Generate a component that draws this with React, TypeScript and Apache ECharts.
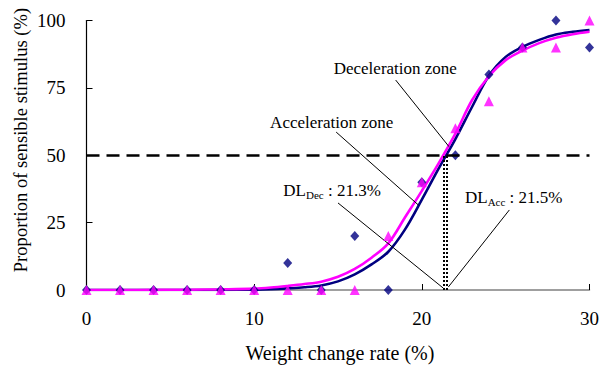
import React, { useEffect, useRef } from 'react';
import * as echarts from 'echarts';

// Observed proportions (%) at each weight change rate (%)
const stimX = [0, 2, 4, 6, 8, 10, 12, 14, 16, 18, 20, 22, 24, 26, 28, 30];
const accObserved = [0, 0, 0, 0, 0, 0, 10, 0, 20, 0, 40, 50, 80, 90, 100, 90];
const decObserved = [0, 0, 0, 0, 0, 0, 0, 0, 0, 20, 40, 60, 70, 90, 90, 100];

// Fitted curves
const fitX = [0, 2, 4, 6, 8, 10, 11, 12, 13, 14, 15, 16, 17, 18, 19, 20, 21, 22, 23, 24, 25, 26, 27, 28, 29, 30];
const accFit = [0, 0, 0, 0, 0.05, 0.15, 0.3, 0.6, 1.0, 1.7, 3.2, 5.8, 9.5, 14.2, 22.5, 33.5, 45, 56, 68, 79.5, 86.5, 90.2, 92.8, 94.8, 95.8, 96.5];
const decFit = [0, 0, 0.05, 0.1, 0.25, 0.5, 0.9, 1.5, 2.2, 3.1, 4.9, 7.8, 12, 17.3, 27, 36.8, 47, 58, 70.5, 79.3, 85.3, 88.8, 91.6, 93.6, 94.9, 95.8];

const xTicks = [0, 10, 20, 30];
const yTicks = [0, 25, 50, 75, 100];
const threshold = 50;
const dlDec = 21.3;
const dlAcc = 21.5;

const FONT = 'Liberation Serif';
const NAVY = '#000080';
const MAGENTA = '#FF00FF';

export default function App() {
  const ref = useRef<HTMLDivElement>(null);
  useEffect(() => {
    if (!ref.current) return;
    const chart = echarts.init(ref.current, null, { renderer: 'svg' });
    const pair = (xs: number[], ys: number[]) => xs.map((x, i) => [x, ys[i]]);
    const leader = (a: number[], b: number[]) => [{ coord: a }, { coord: b }];
    const txt = (x: number, y: number, text: string, size: number, extra: any = {}) => ({
      type: 'text',
      x,
      y,
      ...extra,
      style: {
        text,
        fontSize: size,
        fontFamily: FONT,
        fill: '#000',
        align: 'center',
        verticalAlign: 'middle',
      },
    });
    const dlText = (x: number, y: number, sub: string, v: number) => ({
      type: 'text',
      x,
      y,
      style: {
        text: '{a|DL}{b|' + sub + '}{a| : ' + v.toFixed(1) + '%}',
        align: 'left',
        verticalAlign: 'middle',
        rich: {
          a: { fontSize: 17, fontFamily: FONT, fill: '#000', lineHeight: 20 },
          b: { fontSize: 11, fontFamily: FONT, fill: '#000', lineHeight: 10, verticalAlign: 'bottom' },
        },
      },
    });

    const option: any = {
      animation: false,
      backgroundColor: '#fff',
      textStyle: { fontFamily: FONT },
      grid: { left: 86.5, right: 8.7, top: 20.5, bottom: 76 },
      xAxis: {
        type: 'value',
        min: xTicks[0],
        max: xTicks[xTicks.length - 1],
        interval: 10,
        axisLine: { show: true, lineStyle: { color: '#808080', width: 1.5 } },
        axisTick: { show: true, inside: true, length: 6, lineStyle: { color: '#000', width: 1 } },
        axisLabel: { margin: 19, fontSize: 19, fontFamily: FONT, color: '#000' },
        splitLine: { show: false },
      },
      yAxis: {
        type: 'value',
        min: yTicks[0],
        max: yTicks[yTicks.length - 1],
        interval: 25,
        axisLine: { show: true, lineStyle: { color: '#000', width: 1.2 } },
        axisTick: { show: true, inside: true, length: 6, lineStyle: { color: '#000', width: 1 } },
        axisLabel: { margin: 21, fontSize: 19, fontFamily: FONT, color: '#000' },
        splitLine: { show: false },
      },
      series: [
        {
          type: 'line',
          name: 'Acceleration fit',
          data: pair(fitX, accFit),
          smooth: 0.35,
          showSymbol: false,
          symbol: 'none',
          lineStyle: { color: NAVY, width: 2.6 },
          z: 2,
          markLine: {
            silent: true,
            symbol: 'none',
            label: { show: false },
            lineStyle: { color: '#000', width: 1, type: 'solid' },
            data: [
              leader([18.44, 77.9], [21.62, 53.2]),
              leader([14.89, 58.6], [19.8, 31.5]),
              leader([15.0, 32.3], [21.28, 0.7]),
              leader([25.22, 29.7], [21.58, 1.1]),
            ],
          },
        },
        {
          type: 'line',
          name: 'Deceleration fit',
          data: pair(fitX, decFit),
          smooth: 0.35,
          showSymbol: false,
          symbol: 'none',
          lineStyle: { color: MAGENTA, width: 2.6 },
          z: 3,
          markLine: {
            silent: true,
            symbol: 'none',
            label: { show: false },
            data: [
              [
                { coord: [xTicks[0], threshold], lineStyle: { color: '#000', width: 2.6, type: [13, 7] } },
                { coord: [xTicks[xTicks.length - 1], threshold] },
              ],
              [
                { coord: [dlDec, 0], lineStyle: { color: '#000', width: 2, type: [2, 2] } },
                { coord: [dlDec, threshold] },
              ],
              [
                { coord: [dlAcc, 0], lineStyle: { color: '#000', width: 2, type: [2, 2] } },
                { coord: [dlAcc, threshold] },
              ],
            ],
          },
        },
        {
          type: 'scatter',
          name: 'Acceleration',
          data: pair(stimX, accObserved),
          symbol: 'diamond',
          symbolSize: [9, 10],
          itemStyle: { color: NAVY },
          z: 4,
        },
        {
          type: 'scatter',
          name: 'Deceleration',
          data: pair(stimX, decObserved),
          symbol: 'triangle',
          symbolSize: [10, 10],
          itemStyle: { color: MAGENTA },
          z: 5,
        },
      ],
      graphic: [
        txt(20, 140, 'Proportion of sensible stimulus (%)', 18.6, { rotation: Math.PI / 2 }),
        txt(340, 352.5, 'Weight change rate (%)', 20),
        txt(395.3, 68, 'Deceleration zone', 17),
        txt(331.7, 122, 'Acceleration zone', 17),
        dlText(283.3, 190, 'Dec', dlDec),
        dlText(465, 197.5, 'Acc', dlAcc),
      ],
    };
    chart.setOption(option);
    return () => chart.dispose();
  }, []);
  return (
    <div
      ref={ref}
      style={{ position: 'fixed', left: 0, top: 0, width: 602, height: 366, background: '#fff' }}
    />
  );
}
